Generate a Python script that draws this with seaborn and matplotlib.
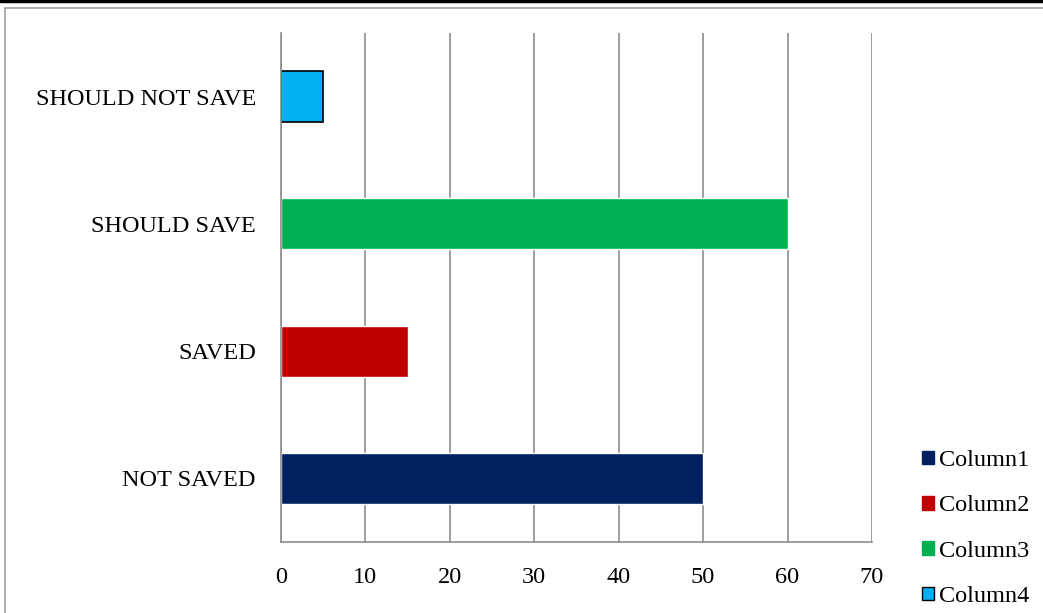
import seaborn as sns
import matplotlib.pyplot as plt
import matplotlib.patches as mpatches
from matplotlib.lines import Line2D
import pandas as pd

# data
categories = ["NOT SAVED", "SAVED", "SHOULD SAVE", "SHOULD NOT SAVE"]
series = ["Column1", "Column2", "Column3", "Column4"]
values = [50, 15, 60, 5]
colors = ["#002060", "#C00000", "#00B050", "#00B0F0"]

df = pd.DataFrame({"category": categories, "series": series, "value": values})

sns.set_style("white")
plt.rcParams['font.family'] = ['Liberation Serif', 'DejaVu Serif']
plt.rcParams['text.color'] = 'black'
FS = 17.5

fig = plt.figure(figsize=(10.43, 6.13), dpi=100)
ax = fig.add_axes([0.2694, 1 - 542 / 613, 0.8360 - 0.2694, (542 - 33) / 613])

sns.barplot(data=df, y="category", x="value", hue="series",
            order=categories[::-1], hue_order=series,
            palette=dict(zip(series, colors)), dodge=False, width=0.4,
            saturation=1, legend=False, ax=ax)

# light blue bar has a black outline
for bar in ax.containers[3]:
    bar.set_edgecolor("black")
    bar.set_linewidth(1.2)

ax.set_xlim(0, 70)
ax.set_ylim(3.5, -0.5)
ax.set_xticks(range(0, 71, 10))
ax.set_xlabel("")
ax.set_ylabel("")
ax.grid(axis="x", color="#8c8c8c", linewidth=1.2)
ax.grid(axis="y", visible=False)
ax.set_axisbelow(True)

for s in ["top", "right"]:
    ax.spines[s].set_visible(False)
for s in ["left", "bottom"]:
    ax.spines[s].set_color("#8c8c8c")
    ax.spines[s].set_linewidth(1.2)

ax.tick_params(axis="x", which="major", direction="out", length=4, color="#8c8c8c",
               width=1.2, labelsize=FS, pad=14, labelcolor="black")
ax.tick_params(axis="y", which="major", length=0, labelsize=FS, pad=18, labelcolor="black")
ax.set_yticks([-0.5, 0.5, 1.5, 2.5, 3.5], minor=True)
ax.tick_params(axis="y", which="minor", direction="out", length=5, color="#8c8c8c", width=1.2)

handles = []
for name, c in zip(series, colors):
    ec = "black" if name == "Column4" else c
    handles.append(mpatches.Patch(facecolor=c, edgecolor=ec, linewidth=1.0, label=name))
fig.legend(handles=handles, loc="upper left", bbox_to_anchor=(0.8725, 1 - 438 / 613),
           frameon=False, fontsize=FS, handlelength=0.5, handleheight=0.5,
           handletextpad=0.2, labelspacing=1.0, borderpad=0, labelcolor="black")

# outer frame
fig.add_artist(Line2D([0, 1], [0.998, 0.998], color="black", linewidth=2.5,
                      transform=fig.transFigure))
fig.add_artist(mpatches.Rectangle((5 / 1043, -0.1), 1.2, 1.1 - 8 / 613, fill=False,
                                  edgecolor="#a0a0a0", linewidth=1.2,
                                  transform=fig.transFigure))

plt.savefig("out.png", dpi=100)
plt.close()
